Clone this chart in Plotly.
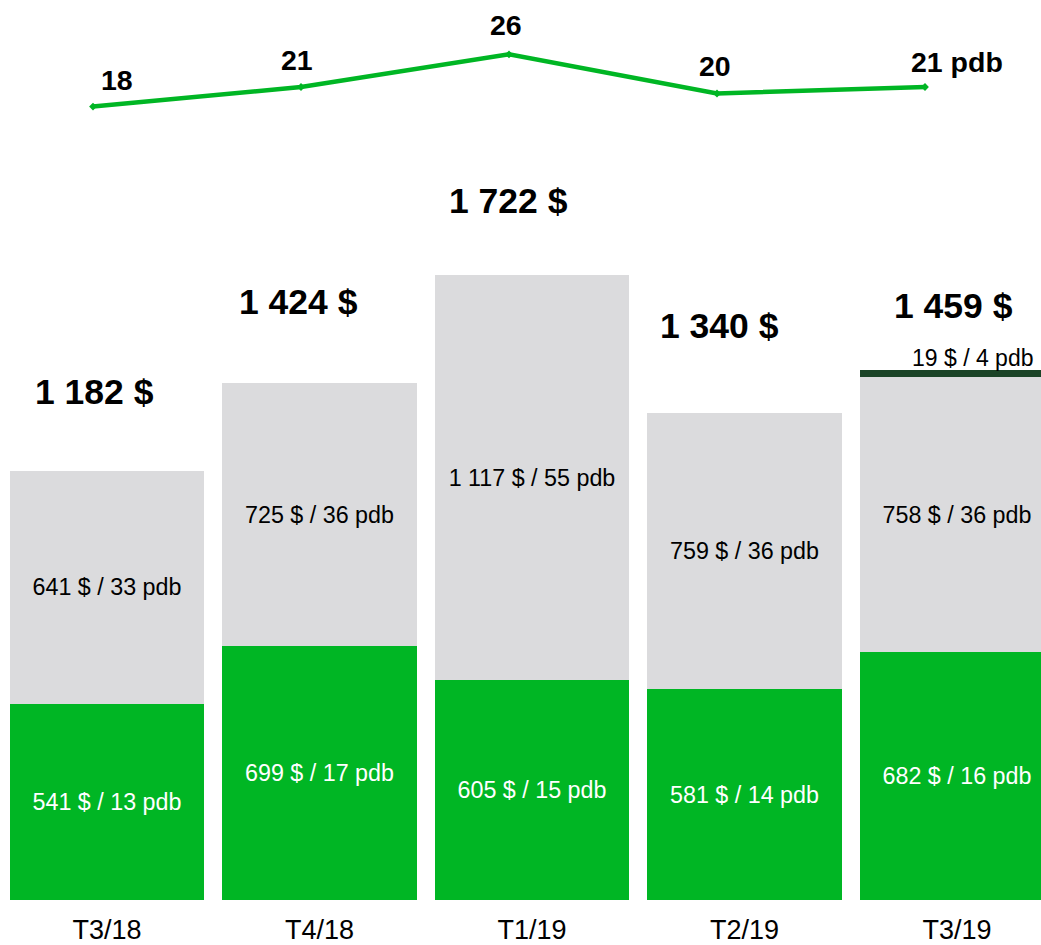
import plotly.graph_objects as go

categories = ["T3/18", "T4/18", "T1/19", "T2/19", "T3/19"]
green_usd = [541, 699, 605, 581, 682]
green_pdb = [13, 17, 15, 14, 16]
grey_usd = [641, 725, 1117, 759, 758]
grey_pdb = [33, 36, 55, 36, 36]
dark_usd = [0, 0, 0, 0, 19]
dark_pdb = [0, 0, 0, 0, 4]
line_pdb = [18, 21, 26, 20, 21]

GREEN = "#00B624"
GREY = "#DBDBDD"
DARK = "#1B4427"
FONT = "Liberation Sans, Arial, sans-serif"


def fmt(v):
    return f"{v:,}".replace(",", " ")


def seg_labels(usd, pdb):
    return [f"{fmt(u)} $ / {p} pdb" if u else "" for u, p in zip(usd, pdb)]


totals = [a + b + c for a, b, c in zip(green_usd, grey_usd, dark_usd)]

fig = go.Figure()
fig.add_trace(go.Bar(
    x=categories, y=green_usd, marker_color=GREEN, marker_line_width=0,
    text=seg_labels(green_usd, green_pdb), textposition="inside",
    insidetextanchor="middle", constraintext="none",
    textfont=dict(color="white", size=23.3, family=FONT),
))
fig.add_trace(go.Bar(
    x=categories, y=grey_usd, marker_color=GREY, marker_line_width=0,
    text=seg_labels(grey_usd, grey_pdb), textposition="inside",
    insidetextanchor="middle", constraintext="none",
    textfont=dict(color="black", size=23.3, family=FONT),
))
fig.add_trace(go.Bar(
    x=categories, y=dark_usd, marker_color=DARK, marker_line_width=0,
    textposition="none",
))
fig.add_trace(go.Scatter(
    x=categories, y=line_pdb, xaxis="x2", yaxis="y2", mode="lines+markers",
    line=dict(color=GREEN, width=4.5), marker=dict(color=GREEN, size=6, symbol="diamond"),
    cliponaxis=False,
))

# total labels
tot_dx = [-12, -21, -24, -25, -4]
tot_dy = [79, 81, 74, 87, 64]
for c, t, dx, dy in zip(categories, totals, tot_dx, tot_dy):
    fig.add_annotation(x=c, y=t, xref="x", yref="y", text=f"<b>{fmt(t)} $</b>",
                       showarrow=False, xshift=dx, yshift=dy,
                       font=dict(size=35.5, color="black", family=FONT))

# dark segment label
for c, u, p, t in zip(categories, dark_usd, dark_pdb, totals):
    if u:
        fig.add_annotation(x=c, y=t, xref="x", yref="y", text=f"{fmt(u)} $ / {p} pdb",
                           showarrow=False, xshift=16, yshift=12,
                           font=dict(size=23, color="black", family=FONT))

# line labels
line_text = [str(v) for v in line_pdb]
line_text[-1] = line_text[-1] + " pdb"
line_dx = [24, -4, -3, -2, 32]
line_dy = [27, 27, 29, 28, 25]
for c, v, s, dx, dy in zip(categories, line_pdb, line_text, line_dx, line_dy):
    fig.add_annotation(x=c, y=v, xref="x2", yref="y2", text=f"<b>{s}</b>",
                       showarrow=False, xshift=dx, yshift=dy,
                       font=dict(size=28.5, color="black", family=FONT))

fig.update_layout(
    width=1041, height=945, barmode="stack", bargap=0.087,
    margin=dict(l=0, r=0, t=0, b=41),
    plot_bgcolor="white", paper_bgcolor="white", showlegend=False,
    font=dict(family=FONT),
    xaxis=dict(type="category", range=[-0.5035, 4.3953], showgrid=False, zeroline=False,
               showline=False, ticks="", ticklabelstandoff=11,
               tickfont=dict(size=27, color="black", family=FONT)),
    yaxis=dict(range=[0, 2478.8], visible=False),
    xaxis2=dict(type="category", overlaying="x", range=[-0.4471, 4.5577], visible=False),
    yaxis2=dict(overlaying="y", range=[-103.68, 34.34], visible=False),
)

fig.write_html(
    "out.html",
    config={"displayModeBar": False},
    post_script="document.body.style.margin='0px';"
                "document.documentElement.style.overflow='hidden';",
)
